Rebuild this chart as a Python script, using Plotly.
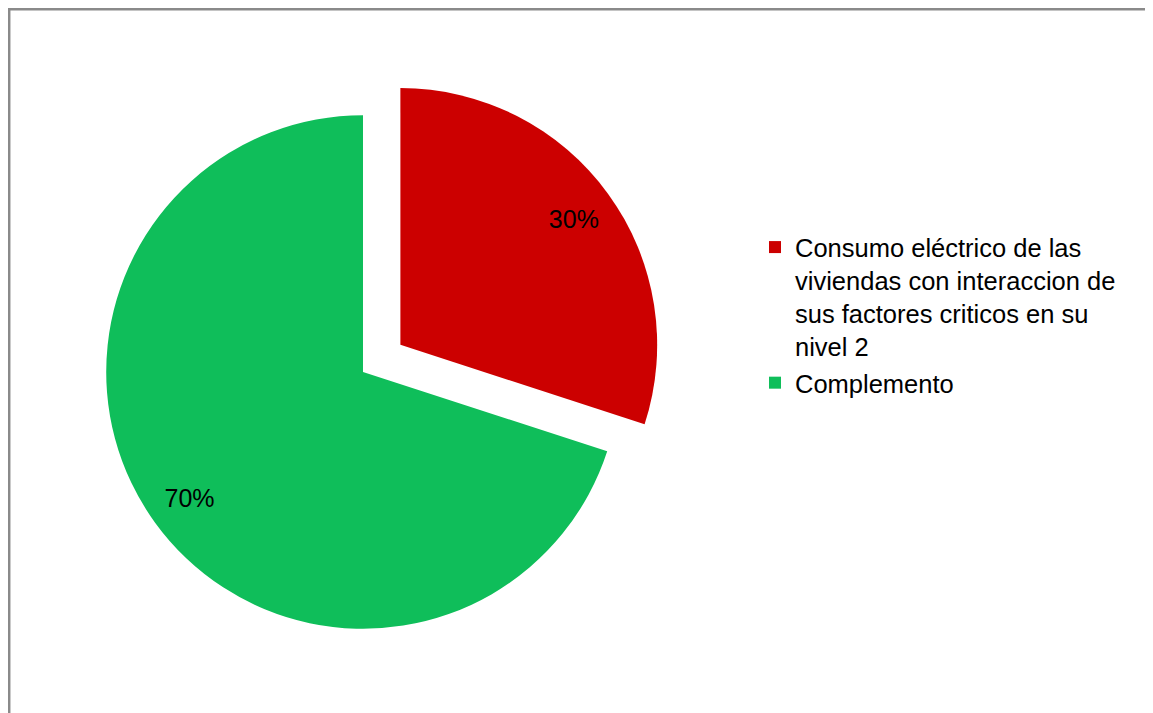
import plotly.graph_objects as go

labels = ["Consumo eléctrico de las<br>viviendas con interaccion de<br>sus factores criticos en su<br>nivel 2", "Complemento"]
values = [30, 70]
colors = ["#CC0000", "#0FBE5A"]
pulls = [0.18, 0]

# figure size leaves room for the 8px page margin of the html body
W, H = 1145, 705
OFF = 8

FONT = "Liberation Sans, Arial, sans-serif"

dom = dict(x=[(60 - OFF) / W, (666 - OFF) / W],
           y=[1 - (675 - OFF) / H, 1 - (69 - OFF) / H])

fig = go.Figure()
fig.add_trace(go.Pie(
    labels=labels,
    values=values,
    sort=False,
    direction="clockwise",
    rotation=0,
    pull=pulls,
    marker=dict(colors=colors, line=dict(width=0)),
    textinfo="none",
    domain=dom,
    hoverinfo="label+percent",
))
# transparent ring used only to place the percentage labels near the rim
fig.add_trace(go.Pie(
    labels=labels,
    values=values,
    sort=False,
    direction="clockwise",
    rotation=0,
    pull=pulls,
    hole=0.67,
    marker=dict(colors=["rgba(0,0,0,0)", "rgba(0,0,0,0)"], line=dict(width=0)),
    textinfo="percent",
    texttemplate="%{percent:.0%}",
    textposition="inside",
    insidetextorientation="horizontal",
    textfont=dict(family=FONT, size=25, color="#000000"),
    domain=dom,
    showlegend=False,
    hoverinfo="skip",
))

fig.update_layout(
    width=W, height=H,
    margin=dict(l=0, r=0, t=0, b=0),
    paper_bgcolor="white",
    plot_bgcolor="white",
    font=dict(family=FONT, size=25.5, color="#000000"),
    showlegend=True,
    legend=dict(
        x=(795 - 40 - OFF) / W, xanchor="left",
        y=1 - 216 / H, yanchor="top",
        font=dict(family=FONT, size=25.5, color="#000000"),
        bgcolor="rgba(0,0,0,0)",
        traceorder="normal",
        valign="top",
    ),
    shapes=[dict(
        type="rect", xref="paper", yref="paper",
        x0=1.2 / W, x1=1.05, y0=-0.05, y1=1 - 1.2 / H,
        line=dict(color="#8A8A8A", width=2.5),
        fillcolor="rgba(0,0,0,0)",
    )],
)

fig.write_html("out.html")
